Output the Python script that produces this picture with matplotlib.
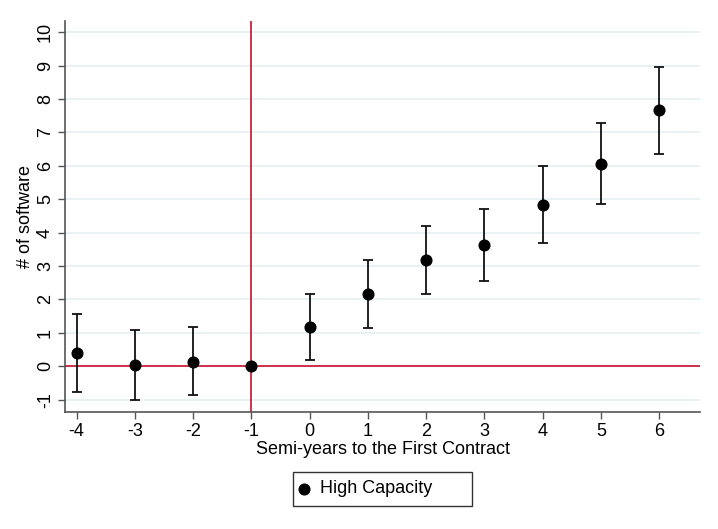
import matplotlib
matplotlib.use("Agg")
import matplotlib.pyplot as plt
from matplotlib.lines import Line2D
from matplotlib.patches import Rectangle

periods = [-4, -3, -2, -1, 0, 1, 2, 3, 4, 5, 6]
estimates = [0.40, 0.03, 0.14, 0.00, 1.18, 2.16, 3.19, 3.64, 4.84, 6.06, 7.67]
ci_upper = [1.56, 1.09, 1.16, 0.00, 2.16, 3.17, 4.19, 4.72, 5.98, 7.27, 8.97]
ci_lower = [-0.76, -1.02, -0.87, 0.00, 0.20, 1.14, 2.17, 2.56, 3.70, 4.86, 6.36]
y_ticks = [-1, 0, 1, 2, 3, 4, 5, 6, 7, 8, 9, 10]
x_ticks = periods
legend_label = "High Capacity"

plt.rcParams['font.family'] = ['Liberation Sans', 'DejaVu Sans']

fig = plt.figure(figsize=(7.18, 5.29), dpi=100)
ax = fig.add_axes([0.0905, 0.2212, 0.8845, 0.7388])

grid_color = "#e6eff1"
for t in y_ticks:
    ax.axhline(t, color=grid_color, lw=1.2, zorder=0)

red = "#c8102e"
ax.axhline(0, color=red, lw=1.2, zorder=1)
ax.axvline(-1, color=red, lw=1.2, zorder=1)

yerr_low = [e - l for e, l in zip(estimates, ci_lower)]
yerr_high = [u - e for e, u in zip(estimates, ci_upper)]
ax.errorbar(periods, estimates, yerr=[yerr_low, yerr_high], fmt='none',
            ecolor='#111111', elinewidth=1.3, capsize=3.6, capthick=1.3, zorder=2)
ax.plot(periods, estimates, 'o', color='black', markersize=7.7, zorder=3)

ax.set_xlim(-4.2, 6.7)
ax.set_ylim(-1.37, 10.33)
ax.set_xticks(x_ticks)
ax.set_xticklabels([str(v) for v in x_ticks])
ax.set_yticks(y_ticks)
ax.set_yticklabels([str(v) for v in y_ticks], rotation=90, va='center')

for s in ['top', 'right']:
    ax.spines[s].set_visible(False)
for s in ['left', 'bottom']:
    ax.spines[s].set_color('#555555')
    ax.spines[s].set_linewidth(1.2)

ax.tick_params(axis='both', labelsize=13, color='#555555', length=5, width=1.0, pad=3)
ax.set_xlabel("Semi-years to the First Contract", fontsize=13, labelpad=1)
ax.set_ylabel("# of software", fontsize=13, labelpad=2)

# Legend (Stata-style box below the plot)
fig.patches.append(Rectangle((0.4077, 0.0440), 0.2501, 0.0643, transform=fig.transFigure,
                             facecolor='white', edgecolor='#333333', linewidth=1.0))
fig.add_artist(Line2D([0.4234], [0.0762], marker='o', color='black', markersize=7.7,
                      linestyle='none', transform=fig.transFigure))
fig.text(0.4457, 0.0762, legend_label, fontsize=13, va='center', ha='left')

fig.savefig("out.png", dpi=100, facecolor='white')
